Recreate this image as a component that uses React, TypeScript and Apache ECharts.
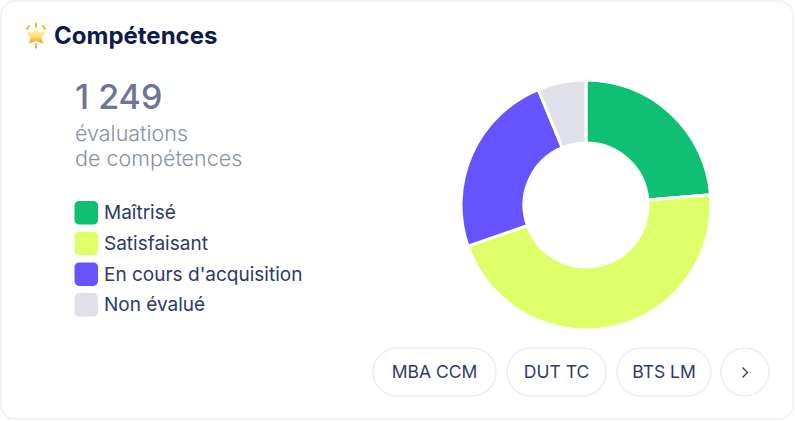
import React, { useEffect, useRef } from "react";
import * as echarts from "echarts";

const categories = ["Maîtrisé", "Satisfaisant", "En cours d'acquisition", "Non évalué"];
const values = [296, 574, 301, 78];
const colors = ["#0FBF73", "#DFFF69", "#6553FF", "#E0E0EA"];
const totalLabel = "1 249";
const subtitleLines = ["évaluations", "de compétences"];
const chips = ["MBA CCM", "DUT TC", "BTS LM"];
const FONT = "Inter, 'Noto Sans', sans-serif";
const roundSquare = "path://M5,0H18A5,5,0,0,1,23,5V18A5,5,0,0,1,18,23H5A5,5,0,0,1,0,18V5A5,5,0,0,1,5,0Z";

export default function App() {
  const ref = useRef<HTMLDivElement>(null);
  useEffect(() => {
    const chart = echarts.init(ref.current!, undefined, { renderer: "svg" });
    const chipBoxes = [
      { x: 373, w: 123 },
      { x: 507, w: 99 },
      { x: 617, w: 94 },
    ];
    const chipEls: any[] = [];
    chips.forEach((label, i) => {
      const b = chipBoxes[i];
      chipEls.push({
        type: "rect",
        shape: { x: b.x, y: 348, width: b.w, height: 48, r: 24 },
        style: { fill: "#fff", stroke: "#ECEDFB", lineWidth: 1.5 },
      });
      chipEls.push({
        type: "text",
        x: b.x + b.w / 2,
        y: 371.5,
        style: { text: label, fontFamily: FONT, fontSize: 17.5, fill: "#2D3A6B", align: "center", verticalAlign: "middle" },
      });
    });
    const sparks = [
      [28, 27.5, 1.8, -35],
      [36, 25, 1.8, 0],
      [44, 27.5, 1.8, 35],
      [36, 46, 1.8, 0],
    ];
    chart.setOption({
      animation: false,
      tooltip: { show: false },
      legend: {
        show: true,
        orient: "vertical",
        left: 72.5,
        top: 199,
        padding: 0,
        itemWidth: 25.5,
        itemHeight: 25.5,
        itemGap: 3.2,
        icon: roundSquare,
        data: categories,
        selectedMode: false,
        textStyle: { fontFamily: FONT, fontSize: 19, lineHeight: 23, color: "#2D3A6B" },
      },
      series: [
        {
          type: "pie",
          center: [586, 205],
          radius: [62, 125],
          startAngle: 90,
          clockwise: true,
          label: { show: false },
          labelLine: { show: false },
          silent: true,
          itemStyle: { borderColor: "#fff", borderWidth: 3 },
          data: categories.map((name, i) => ({ name, value: values[i], itemStyle: { color: colors[i] } })),
        },
      ],
      graphic: {
        elements: [
          {
            type: "rect",
            z: -1,
            shape: { x: 1, y: 1, width: 792, height: 418, r: 14 },
            style: { fill: "#fff", stroke: "#EFF0FB", lineWidth: 1.5 },
          },
          ...sparks.map(([x, y, l, rot]) => ({
            type: "line",
            x,
            y,
            rotation: ((rot as number) * Math.PI) / 180,
            shape: { x1: 0, y1: -l, x2: 0, y2: l },
            style: { stroke: "#F7B21E", lineWidth: 1.8, lineCap: "round" },
          })),
          {
            type: "polygon",
            shape: {
              points: [
                [36, 27], [39, 32], [46, 32.5], [41.5, 37], [43, 43.5],
                [36, 41], [29, 43.5], [30.5, 37], [26, 32.5], [33, 32],
              ],
            },
            style: {
              fill: new echarts.graphic.LinearGradient(0, 0, 0, 1, [
                { offset: 0, color: "#FFF6CC" },
                { offset: 0.55, color: "#FFE27A" },
                { offset: 1, color: "#F59A12" },
              ]),
            },
          },
          {
            type: "text",
            x: 54,
            y: 35.5,
            style: { text: "Compétences", fontFamily: FONT, fontSize: 24, fontWeight: 700, fill: "#0D1B4C", verticalAlign: "middle" },
          },
          {
            type: "text",
            x: 75,
            y: 96,
            style: { text: totalLabel, fontFamily: FONT, fontSize: 34, fontWeight: 500, fill: "#6C7694", verticalAlign: "middle" },
          },
          ...subtitleLines.map((t, i) => ({
            type: "text",
            x: 75,
            y: 133 + i * 24.5,
            style: { text: t, fontFamily: FONT, fontSize: 21.5, fontWeight: 300, fill: "#8790AB", verticalAlign: "middle" },
          })),
          ...chipEls,
          {
            type: "circle",
            shape: { cx: 745, cy: 372, r: 24 },
            style: { fill: "#fff", stroke: "#ECEDFB", lineWidth: 1.5 },
          },
          {
            type: "polyline",
            shape: { points: [[742.5, 367.5], [747.5, 372.5], [742.5, 377.5]] },
            style: { fill: "none", stroke: "#2D3A6B", lineWidth: 1.3 },
          },
        ],
      },
    });
    return () => chart.dispose();
  }, []);
  return <div ref={ref} style={{ position: "absolute", left: 0, top: 0, width: 795, height: 421 }} />;
}
